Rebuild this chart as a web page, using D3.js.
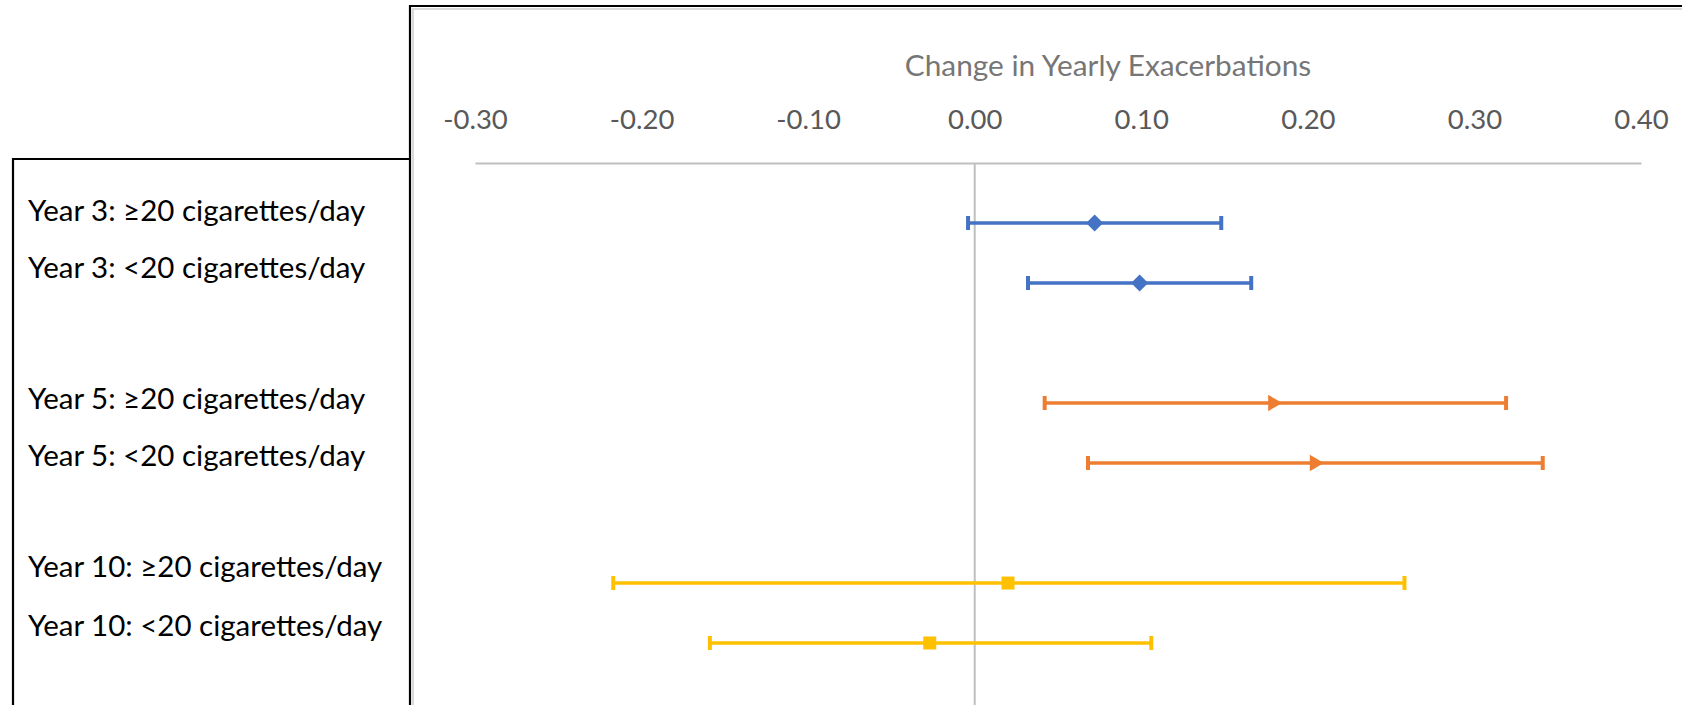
<!DOCTYPE html>
<html>
<head>
<meta charset="utf-8">
<script src="https://cdn.jsdelivr.net/npm/d3@7"></script>
<style>
  body { margin: 0; background: #fff; }
  text { font-family: Lato, "Open Sans", sans-serif; }
</style>
</head>
<body>
<svg width="1682" height="705"></svg>
<script>
// rows of the forest plot, top to bottom
let labels = [
  "Year 3: ≥20 cigarettes/day",
  "Year 3: <20 cigarettes/day",
  "Year 5: ≥20 cigarettes/day",
  "Year 5: <20 cigarettes/day",
  "Year 10: ≥20 cigarettes/day",
  "Year 10: <20 cigarettes/day"
];
let groups = ["Year 3", "Year 3", "Year 5", "Year 5", "Year 10", "Year 10"];
let estimates = [0.072, 0.099, 0.179, 0.204, 0.020, -0.027];
let lower = [-0.004, 0.032, 0.042, 0.068, -0.217, -0.159];
let upper = [0.148, 0.166, 0.319, 0.341, 0.258, 0.106];
let rowIndex = [1, 2, 4, 5, 7, 8];
let xTicks = [-0.3, -0.2, -0.1, 0, 0.1, 0.2, 0.3, 0.4];
let axisTitle = "Change in Yearly Exacerbations";

let colors = { "Year 3": "#4472C4", "Year 5": "#ED7D31", "Year 10": "#FFC000" };
let shapes = { "Year 3": d3.symbolDiamond2, "Year 5": d3.symbolTriangle2, "Year 10": d3.symbolSquare2 };
let markerSize = { "Year 3": 185, "Year 5": 190, "Year 10": 215 };

// text box line baselines (separate text box on the left)
let labelBaselines = [221, 278, 409, 466, 577, 636];

let svg = d3.select("svg"),
    width = +svg.attr("width"),
    height = +svg.attr("height");

let x = d3.scaleLinear().domain([-0.3, 0.4]).range([475, 1641]);
let y = d3.scaleLinear().domain([0, 8]).range([163, 643]);

// outer frames
svg.append("path")
  .attr("d", `M411,${height + 2}V7H${width + 2}`)
  .attr("fill", "none").attr("stroke", "#d9d9d9").attr("stroke-width", 2)
  .attr("transform", "translate(2,2)");
svg.append("path")
  .attr("d", `M410,${height + 2}V6H${width + 2}`)
  .attr("fill", "none").attr("stroke", "#000").attr("stroke-width", 2.2);
svg.append("path")
  .attr("d", `M13,${height + 2}V159H410`)
  .attr("fill", "none").attr("stroke", "#000").attr("stroke-width", 2.2);

// zero line
svg.append("line")
  .attr("x1", x(0)).attr("x2", x(0))
  .attr("y1", y(0)).attr("y2", height)
  .attr("stroke", "#bfbfbf").attr("stroke-width", 2);

// axis on top
let axis = svg.append("g")
  .attr("transform", `translate(0,${y(0)})`)
  .call(d3.axisTop(x).tickValues(xTicks).tickFormat(d => d.toFixed(2))
    .tickSize(0).tickPadding(34));
axis.select(".domain").attr("stroke", "#bfbfbf").attr("stroke-width", 2);
axis.selectAll("text")
  .attr("fill", "#595959")
  .style("font-size", "27.5px")
  .style("font-family", "Lato, sans-serif");

svg.append("text")
  .attr("x", 1108).attr("y", 75.5)
  .attr("text-anchor", "middle")
  .attr("fill", "#767676")
  .style("font-size", "29.8px")
  .text(axisTitle);

// row labels
svg.selectAll(".label")
  .data(labels)
  .enter().append("text")
  .attr("class", "label")
  .attr("x", 28)
  .attr("y", (d, i) => labelBaselines[i])
  .attr("fill", "#000")
  .style("font-size", "29.5px")
  .text(d => d);

// error bars
let rows = labels.map((d, i) => ({
  label: d, group: groups[i], est: estimates[i], lo: lower[i], hi: upper[i], row: rowIndex[i]
}));

let bars = svg.selectAll(".bar")
  .data(rows)
  .enter().append("g")
  .attr("class", "bar")
  .attr("stroke", d => colors[d.group])
  .attr("fill", d => colors[d.group]);

bars.append("line")
  .attr("x1", d => x(d.lo)).attr("x2", d => x(d.hi))
  .attr("y1", d => y(d.row)).attr("y2", d => y(d.row))
  .attr("stroke-width", 3.5);

bars.selectAll(".cap")
  .data(d => [d.lo, d.hi].map(v => ({ v, row: d.row })))
  .enter().append("line")
  .attr("class", "cap")
  .attr("x1", d => x(d.v)).attr("x2", d => x(d.v))
  .attr("y1", d => y(d.row) - 7).attr("y2", d => y(d.row) + 7)
  .attr("stroke-width", 4);

bars.append("path")
  .attr("d", d => d3.symbol().type(shapes[d.group]).size(markerSize[d.group])())
  .attr("stroke", "none")
  .attr("transform", d => {
    let rot = d.group === "Year 5" ? 90 : 0;
    return `translate(${x(d.est)},${y(d.row)}) rotate(${rot})`;
  });
</script>
</body>
</html>
